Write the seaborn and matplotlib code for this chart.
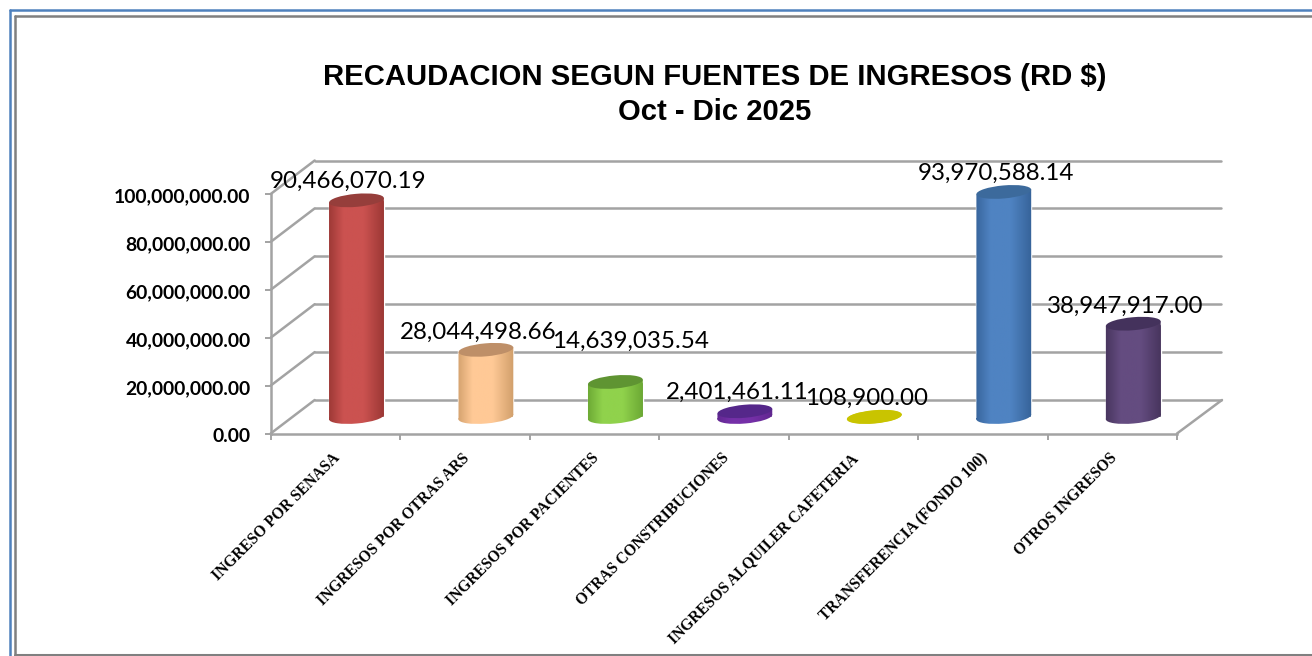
import numpy as np
import matplotlib
matplotlib.use("Agg")
import matplotlib.pyplot as plt
import seaborn as sns
from matplotlib.colors import LinearSegmentedColormap
from matplotlib.lines import Line2D
from matplotlib.patches import Ellipse
from matplotlib.path import Path
from matplotlib.transforms import IdentityTransform, Affine2D

categories = ["INGRESO POR SENASA", "INGRESOS POR OTRAS ARS", "INGRESOS POR PACIENTES",
              "OTRAS CONSTRIBUCIONES", "INGRESOS ALQUILER CAFETERIA",
              "TRANSFERENCIA (FONDO 100)", "OTROS INGRESOS"]
values = [90466070.19, 28044498.66, 14639035.54, 2401461.11, 108900.00, 93970588.14, 38947917.00]
y_ticks = [0, 20000000, 40000000, 60000000, 80000000, 100000000]
title = "RECAUDACION SEGUN FUENTES DE INGRESOS (RD $)\nOct - Dic 2025"

mid_colors = ["#CB5250", "#FFC996", "#90D24C", "#7530A8", "#C9C400", "#4F83C2", "#644C80"]
edge_colors = ["#8C2F2C", "#C4935F", "#5F9A2C", "#5A2488", "#C9C400", "#2F5A8E", "#3E2D52"]
top_colors = ["#963E3B", "#BE8F68", "#5F9432", "#55278A", "#C9C400", "#3C6A9C", "#44325C"]
label_offsets = [(-8, 19), (-8, 17), (15, 41), (-8, 19), (-8, 18), (-8, 19), (-8, 17)]

W, H = 1312, 656
sns.set_theme(style="white")
fig = plt.figure(figsize=(W / 100, H / 100), dpi=100, facecolor="white")

L, R, B, T = 270.7, 1177.0, 433.5, 194.0
GRID = "#A3A3A3"
DX, DY = 44, 33.5


def rect(dx, dy):
    return [(L + dx) / W, (H - B + dy) / H, (R - L) / W, (B - T) / H]


def setup(a):
    a.set_xlim(-0.5, len(categories) - 0.5)
    a.set_ylim(0, y_ticks[-1])
    a.patch.set_alpha(0)


# back wall
ax_back = fig.add_axes(rect(DX, DY), zorder=1)
setup(ax_back)
for s in ax_back.spines.values():
    s.set_visible(False)
ax_back.set_xticks([])
ax_back.set_yticks(y_ticks)
ax_back.set_yticklabels([])
ax_back.tick_params(left=False)
ax_back.grid(axis="y", color=GRID, lw=1.8, clip_on=False)
for g in ax_back.get_ygridlines():
    g.set_clip_on(False)
ax_back.set_axisbelow(True)

# front axis
ax = fig.add_axes(rect(0, 0), zorder=2)
setup(ax)
for name in ("top", "right"):
    ax.spines[name].set_visible(False)
for name in ("left", "bottom"):
    ax.spines[name].set_color(GRID)
    ax.spines[name].set_linewidth(1.8)
ax.set_yticks(y_ticks)
ax.set_yticklabels([f"{v:,.2f}" for v in y_ticks], fontfamily="Lato", fontweight="bold",
                   fontsize=13.9, color="black")
ax.set_xticks(np.arange(len(categories) + 1) - 0.5)
ax.set_xticklabels([])
ax.set_xticks(np.arange(len(categories)), minor=True)
ax.set_xticklabels(categories, minor=True, rotation=45, ha="right", va="top",
                   rotation_mode="anchor", fontfamily="Liberation Serif", fontweight="bold",
                   fontsize=11.2, color="black")
ax.tick_params(axis="both", which="major", length=4, width=1.4, color=GRID, left=True, bottom=True)
ax.tick_params(axis="y", pad=10.5)
ax.tick_params(axis="x", which="minor", length=0, pad=12)
for lab in ax.get_xticklabels(minor=True):
    lab.set_transform(lab.get_transform() + Affine2D().translate(-3, 0))
for lab in ax.get_yticklabels():
    lab.set_transform(lab.get_transform() + Affine2D().translate(0, -1.5))

# floor / wall diagonals
for v in y_ticks:
    x0, y0 = ax.transData.transform((-0.5, v))
    fig.add_artist(Line2D([x0, x0 + DX], [y0, y0 + DY], color=GRID, lw=1.8,
                          transform=IdentityTransform(), zorder=1.5))
x0, y0 = ax.transData.transform((len(categories) - 0.5, 0))
fig.add_artist(Line2D([x0, x0 + DX + 1], [y0, y0 + DY], color=GRID, lw=1.8,
                      transform=IdentityTransform(), zorder=1.5))

# cylinders
ax_bar = fig.add_axes(rect(21, 16.5), zorder=3)
sns.barplot(x=categories, y=values, hue=categories, palette=edge_colors, legend=False,
            width=0.425, saturation=1, ax=ax_bar, native_scale=False)
setup(ax_bar)
ax_bar.axis("off")

EW, EH, ANG = 55.0, 13.0, 5.0
ca, sa = np.cos(np.radians(ANG)), np.sin(np.radians(ANG))
for i, v in enumerate(values):
    tx, ty = ax_bar.transData.transform((i, v))
    bx, by = ax_bar.transData.transform((i, 0))
    dx, dy = EW / 2 * ca, EW / 2 * sa
    wall = Path([(bx - dx, by - dy), (bx + dx, by + dy), (tx + dx, ty + dy), (tx - dx, ty - dy),
                 (bx - dx, by - dy)], closed=True)
    base = Ellipse((bx, by), EW, EH, angle=ANG, transform=IdentityTransform())
    base_path = base.get_patch_transform().transform_path(base.get_path())
    clip = Path.make_compound_path(wall, base_path)
    cmap = LinearSegmentedColormap.from_list(
        "c", [(0, edge_colors[i]), (0.3, mid_colors[i]), (0.6, mid_colors[i]), (1, edge_colors[i])])
    im = ax_bar.imshow(np.linspace(0, 1, 128)[None, :], cmap=cmap, aspect="auto",
                       extent=(i - 0.26, i + 0.26, -0.06 * y_ticks[-1], v + 0.06 * y_ticks[-1]), zorder=3)
    im.set_clip_box(fig.bbox)
    im.set_clip_path(clip, IdentityTransform())
    ax_bar.add_artist(Ellipse((tx, ty), EW, EH, angle=ANG, facecolor=top_colors[i], edgecolor="none",
                              transform=IdentityTransform(), zorder=4, clip_on=False))
    ox, oy = label_offsets[i]
    ax_bar.annotate(f"{v:,.2f}", (i, v), xytext=(ox * 0.72, oy * 0.72), textcoords="offset points",
                    ha="center", va="center", fontfamily="Lato", fontsize=17.4, color="black",
                    zorder=6, annotation_clip=False)
setup(ax_bar)

fig.text(714.5 / W, 1 - 94.5 / H, title, ha="center", va="center", fontfamily="Liberation Sans",
         fontweight="bold", fontsize=21.1, color="black", linespacing=1.3)

# outer frame
for xs, ys, col, lw in [([9.5, 9.5], [656, 10], "#4F81BD", 1.8), ([9.5, 1312], [10, 10], "#4F81BD", 1.8),
                        ([14.5, 14.5], [656, 16], "#808080", 1.8), ([14.5, 1312], [16, 16], "#808080", 1.8),
                        ([14.5, 1312], [654.5, 654.5], "#808080", 2.2)]:
    fig.add_artist(Line2D(xs, [H - y for y in ys], color=col, lw=lw, transform=IdentityTransform(), zorder=10))

fig.savefig("out.png", dpi=100)
